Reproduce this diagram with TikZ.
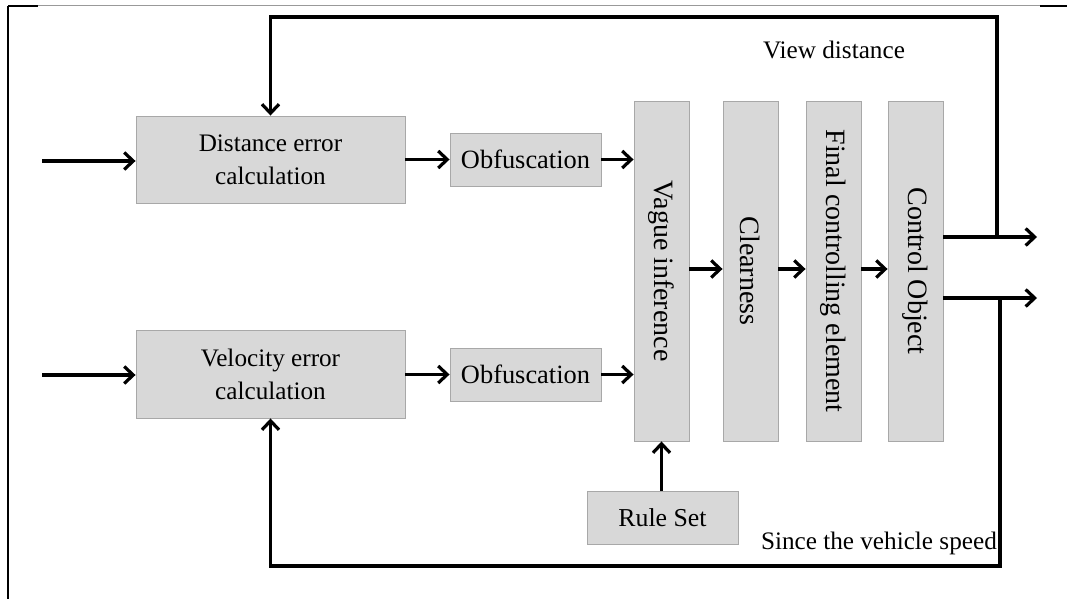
\documentclass[tikz,border=0pt]{standalone}
\usepackage{fontspec}
\setmainfont{Liberation Serif}
\usetikzlibrary{arrows.meta}
\definecolor{boxfill}{HTML}{D8D8D8}
\definecolor{boxline}{HTML}{A8A8A8}
\tikzset{
  blk/.style={draw=boxline, line width=0.9pt, fill=boxfill, inner sep=0pt, align=center,
    font=\fontsize{25.2}{33}\selectfont},
  vblk/.style={blk, minimum width=55pt, minimum height=340pt},
  conn/.style={line width=3.2pt, draw=black},
  arr/.style={conn, -{Straight Barb[length=9pt,width=17pt,line width=3.2pt]}},
  lbl/.style={font=\fontsize{25.2}{30}\selectfont, inner sep=0pt},
  vlbl/.style={font=\fontsize{28}{30}\selectfont, inner sep=0pt, rotate=-90}
}
\begin{document}
\begin{tikzpicture}[x=1pt,y=-1pt]
\useasboundingbox (0,0) rectangle (1067,599);
% page frame
\draw[gray!80, line width=1pt] (8,6) -- (1067,6);
\draw[black, line width=1.2pt] (8,6) -- (38,6);
\draw[black, line width=1.2pt] (1040,6) -- (1067,6);
\draw[black, line width=1.4pt] (8,6) -- (8,599);

% boxes
\node[blk, minimum width=269pt, minimum height=87pt] (dist) at (270.5,159.5) {Distance error\\calculation};
\node[blk, minimum width=269pt, minimum height=88pt] (velo) at (270.5,374) {Velocity error\\calculation};
\node[blk, minimum width=151pt, minimum height=53pt, font=\fontsize{26.4}{30}\selectfont] (obf1) at (525.5,159.5) {Obfuscation};
\node[blk, minimum width=151pt, minimum height=53pt, font=\fontsize{26.4}{30}\selectfont] (obf2) at (525.5,374.5) {Obfuscation};
\node[vblk] (vague) at (661.5,271) {};
\node[vblk] (clear) at (750.5,271) {};
\node[vblk] (final) at (833.5,271) {};
\node[vblk] (ctrl) at (915.5,271) {};
\node[vlbl] (tvague) at (vague.center) {Vague inference};
\node[vlbl] (tclear) at (clear.center) {Clearness};
\node[vlbl] (tfinal) at (final.center) {Final controlling element};
\node[vlbl] (tctrl) at (ctrl.center) {Control Object};
\node[blk, minimum width=151pt, minimum height=53pt, font=\fontsize{25.8}{30}\selectfont] (rules) at (662.5,517.5) {Rule Set};

% labels
\node[lbl] (vd) at (834,50) {View distance};
\node[lbl, anchor=east] (sv) at (997,543) {Since the vehicle speed};

% inputs
\coordinate (in1) at (42,161);
\coordinate (in2) at (42,375);
\draw[arr] (in1) -- (in1 -| dist.west);
\draw[arr] (in2) -- (in2 -| velo.west);
\draw[arr] (dist.east |- obf1.west) -- (obf1.west);
\draw[arr] (velo.east |- obf2.west) -- (obf2.west);
\draw[arr] (obf1.east) -- (obf1.east -| vague.west);
\draw[arr] (obf2.east) -- (obf2.east -| vague.west);
\draw[arr] (vague.east |- 0,269) -- (clear.west |- 0,269);
\draw[arr] (clear.east |- 0,269) -- (final.west |- 0,269);
\draw[arr] (final.east |- 0,269) -- (ctrl.west |- 0,269);
\draw[arr] (rules.north -| vague.south) -- (vague.south);

% outputs
\coordinate (out1) at (1037,237);
\coordinate (out2) at (1037,298);
\draw[arr] (ctrl.east |- out1) -- (out1);
\draw[arr] (ctrl.east |- out2) -- (out2);

% feedback loops
\coordinate (fb1) at (997,237);
\coordinate (top) at (997,17);
\draw[arr] (fb1) -- (top) -| (dist.north);
\coordinate (fb2) at (1000,298);
\coordinate (bot) at (1000,566);
\draw[arr] (fb2) -- (bot) -| (velo.south);
\end{tikzpicture}
\end{document}
